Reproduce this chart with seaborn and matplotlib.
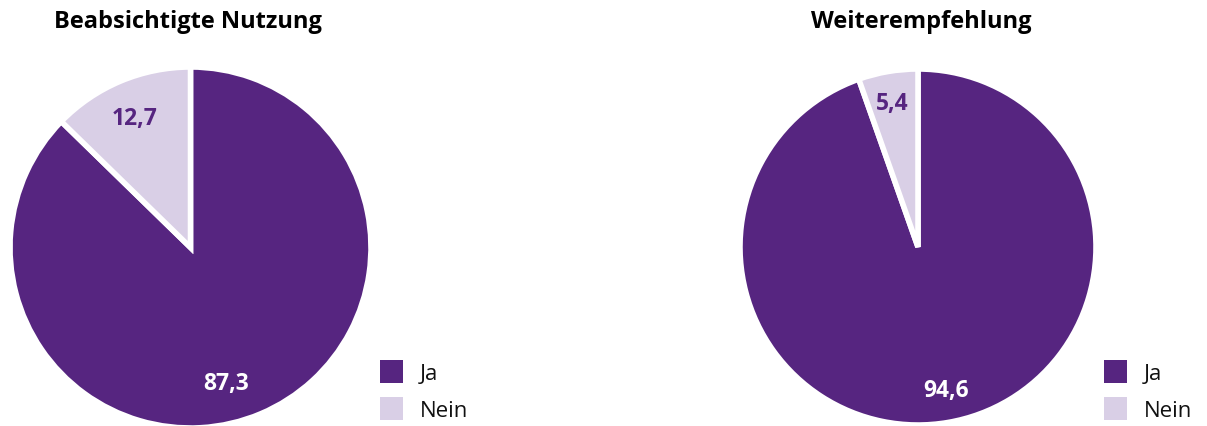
import numpy as np
import matplotlib
matplotlib.use("Agg")
import matplotlib.pyplot as plt
from matplotlib.patches import Patch
import seaborn as sns

# data
categories = ["Ja", "Nein"]
titles = ["Beabsichtigte Nutzung", "Weiterempfehlung"]
nutzung = [87.3, 12.7]
empfehlung = [94.6, 5.4]
label_texts = [["87,3", "12,7"], ["94,6", "5,4"]]

sns.set_theme(style="white")
plt.rcParams["font.family"] = ["Open Sans", "DejaVu Sans"]

colors = sns.color_palette(["#562580", "#d9cfe6"])
text_colors = ["white", "#562580"]

W, H = 1207, 427
fig = plt.figure(figsize=(W / 100, H / 100), dpi=100)

# pie centre (px from left/top), radius (px), legend x, label distance / angle shift
layout = [
    dict(cx=190.5, cy=248.5, r=180.5, leg_x=380, dist=[0.775, 0.78], shift=[-8, 0.5],
         title_x=188),
    dict(cx=918.0, cy=248.0, r=178.0, leg_x=1104, dist=[0.82, 0.82], shift=[1.4, 0.5],
         title_x=921),
]

handles = [Patch(facecolor=c, edgecolor="none") for c in colors]

for i, values in enumerate([nutzung, empfehlung]):
    L = layout[i]
    ax = fig.add_axes([(L["cx"] - L["r"]) / W, (H - L["cy"] - L["r"]) / H,
                       2 * L["r"] / W, 2 * L["r"] / H])
    wedges, _ = ax.pie(values, colors=colors, startangle=90, counterclock=False,
                       wedgeprops=dict(edgecolor="white", linewidth=4))
    ax.set_xlim(-1, 1)
    ax.set_ylim(-1, 1)
    ax.set_aspect("equal")
    ax.axis("off")
    for j, w in enumerate(wedges):
        ang = np.deg2rad((w.theta1 + w.theta2) / 2 + L["shift"][j])
        d = L["dist"][j]
        ax.text(d * np.cos(ang), d * np.sin(ang), label_texts[i][j],
                ha="center", va="center", color=text_colors[j],
                fontsize=16.5, fontweight="bold")
    fig.text(L["title_x"] / W, 1 - 22 / H, titles[i], ha="center", va="center",
             fontsize=17, fontweight="bold", color="black")
    fig.legend(handles, categories, loc="center left",
               bbox_to_anchor=(L["leg_x"] / W, 35.5 / H),
               frameon=False, fontsize=16, labelcolor="#111111",
               handlelength=1.05, handleheight=1.22,
               handletextpad=0.75, labelspacing=0.62, borderpad=0, borderaxespad=0)

fig.savefig("out.png", dpi=100)
